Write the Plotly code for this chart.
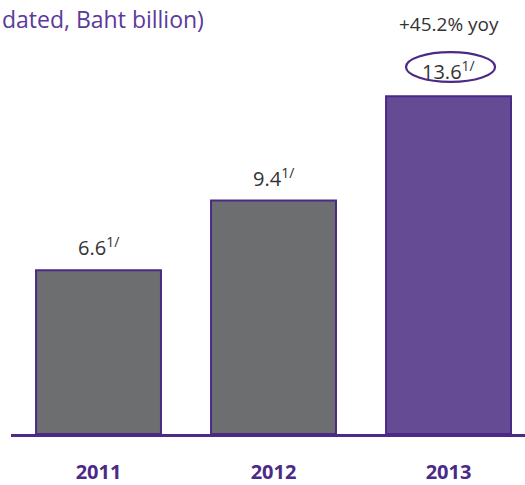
import plotly.graph_objects as go

years = ["2011", "2012", "2013"]
values = [6.6, 9.4, 13.6]
value_labels = ["6.6<sup>1/</sup>", "9.4<sup>1/</sup>", "13.6<sup>1/</sup>"]
bar_colors = ["#6D6E70", "#6D6E70", "#654A94"]
growth_label = "+45.2% yoy"
title_text = "dated, Baht billion)"

PURPLE = "#4B2A87"
TEXT = "#333333"
FONT = "Open Sans"

fig = go.Figure()
fig.add_trace(go.Bar(
    x=years, y=values,
    marker=dict(color=bar_colors, line=dict(color=PURPLE, width=2)),
    width=0.714,
    hoverinfo="skip",
))

last = len(years) - 1
for i, (yr, v, lab) in enumerate(zip(years, values, value_labels)):
    fig.add_annotation(
        x=i, y=v, xref="x", yref="y", text=lab, showarrow=False,
        yanchor="bottom", xanchor="center", yshift=9 if i == last else 7,
        font=dict(family=FONT, size=20, color=TEXT),
    )

fig.add_annotation(
    x=last, y=values[last], xref="x", yref="y", text=growth_label,
    showarrow=False, yanchor="bottom", xanchor="center", yshift=57,
    font=dict(family=FONT, size=19, color=TEXT),
)
# ellipse around last value label (offsets in value units: 25 px per unit)
fig.add_shape(
    type="circle", xref="x", yref="y",
    x0=last - 0.243, x1=last + 0.266,
    y0=values[last] + 0.58, y1=values[last] + 1.78,
    line=dict(color=PURPLE, width=2.2),
)

fig.add_annotation(
    x=0, y=1, xref="paper", yref="paper", text=title_text, showarrow=False,
    xanchor="left", yanchor="top", xshift=-11, yshift=-1,
    font=dict(family=FONT, size=23, color="#5B3A9A"),
)

fig.update_layout(
    width=525, height=485,
    margin=dict(l=11, r=0, t=0, b=48),
    paper_bgcolor="white", plot_bgcolor="white",
    showlegend=False,
    xaxis=dict(
        type="category", range=[-0.5, 2.437],
        showline=True, linecolor=PURPLE, linewidth=2.5,
        showgrid=False, zeroline=False, ticks="",
        tickfont=dict(family=FONT, size=20, color=PURPLE, weight="bold"),
        ticklabelstandoff=18,
    ),
    yaxis=dict(
        range=[0, 17.48], visible=False, showgrid=False, zeroline=False,
    ),
)

fig.write_html("out.html")
